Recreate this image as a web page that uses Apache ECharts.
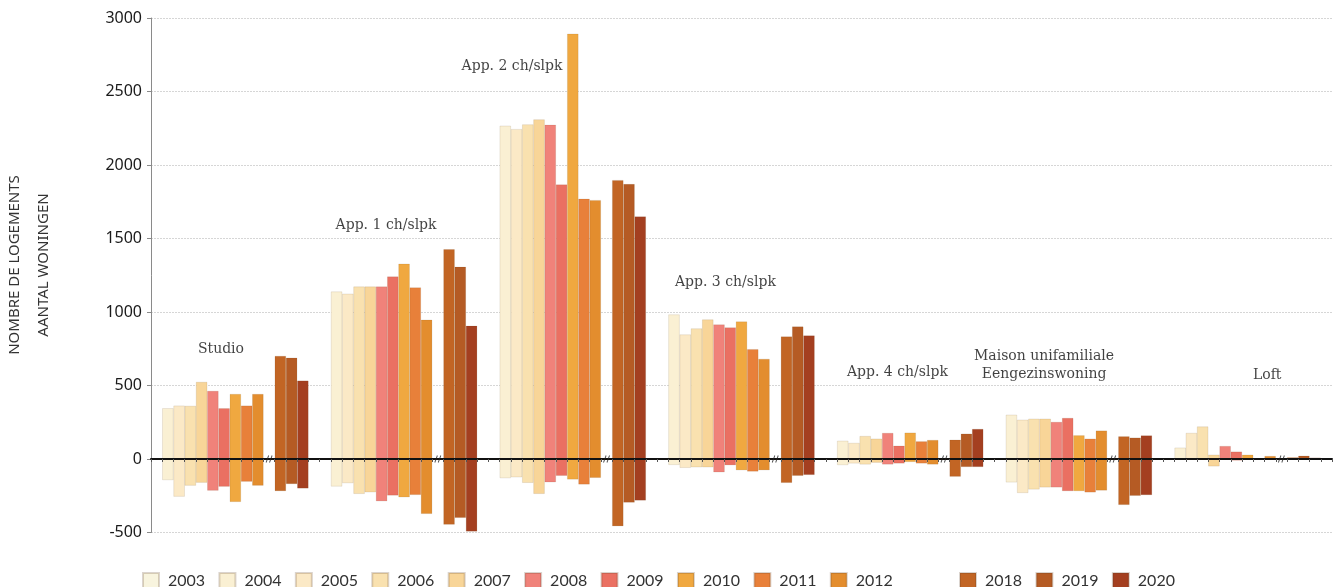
<!DOCTYPE html>
<html>
<head>
<meta charset="utf-8">
<script src="https://cdn.jsdelivr.net/npm/echarts@6/dist/echarts.min.js"></script>
<style>
html,body{margin:0;padding:0;background:#fff;}
#chart{width:1338px;height:587px;}
</style>
</head>
<body>
<div id="chart"></div>
<script>
// ---- data ----
const types = ['Studio', 'App. 1 ch/slpk', 'App. 2 ch/slpk', 'App. 3 ch/slpk', 'App. 4 ch/slpk', 'Maison unifamiliale\nEengezinswoning', 'Loft'];
const years = ['2003', '2004', '2005', '2006', '2007', '2008', '2009', '2010', '2011', '2012', '2018', '2019', '2020'];
const yTicks = [-500, 0, 500, 1000, 1500, 2000, 2500, 3000];

// positive values per year, one per type (Studio .. Loft)
const pos2003 = [null, null, null, null, null, null, null];
const pos2004 = [345, 1139, 2267, 983, 124, 301, 77];
const pos2005 = [363, 1124, 2244, 847, 109, 267, 177];
const pos2006 = [361, 1173, 2276, 888, 156, 274, 221];
const pos2007 = [524, 1173, 2310, 949, 138, 274, 29];
const pos2008 = [463, 1173, 2273, 915, 177, 252, 88];
const pos2009 = [345, 1241, 1867, 895, 90, 279, 50];
const pos2010 = [442, 1328, 2893, 935, 179, 161, 29];
const pos2011 = [363, 1167, 1770, 747, 120, 138, null];
const pos2012 = [442, 947, 1761, 681, 129, 193, 20];
const pos2018 = [701, 1427, 1897, 833, 131, 154, 11];
const pos2019 = [689, 1307, 1870, 901, 172, 145, 22];
const pos2020 = [533, 906, 1650, 840, 204, 160, 9];

// negative values per year
const neg2003 = [null, null, null, null, null, null, null];
const neg2004 = [-143, -187, -130, -40, -41, -159, null];
const neg2005 = [-256, -164, -124, -60, -30, -231, null];
const neg2006 = [-181, -237, -162, -56, -37, -207, null];
const neg2007 = [-161, -226, -237, -56, -25, -193, -50];
const neg2008 = [-215, -287, -158, -90, -37, -193, null];
const neg2009 = [-188, -248, -114, -42, -30, -218, -10];
const neg2010 = [-292, -260, -139, -76, -20, -218, null];
const neg2011 = [-154, -244, -173, -85, -30, -227, null];
const neg2012 = [-181, -373, -128, -76, -37, -214, null];
const neg2018 = [-218, -446, -457, -162, -120, -312, null];
const neg2019 = [-170, -400, -296, -114, -54, -250, null];
const neg2020 = [-200, -493, -282, -108, -54, -245, null];

const posByYear = [pos2003, pos2004, pos2005, pos2006, pos2007, pos2008, pos2009, pos2010, pos2011, pos2012, pos2018, pos2019, pos2020];
const negByYear = [neg2003, neg2004, neg2005, neg2006, neg2007, neg2008, neg2009, neg2010, neg2011, neg2012, neg2018, neg2019, neg2020];

// ---- styles ----
const colors = ['#F8F4DE', '#FAF0D3', '#FBE9C6', '#F9E1AF', '#F8D598', '#F0827A', '#EA7062', '#F0A840', '#E8803A', '#E38D2E', '#C26524', '#B55B24', '#A43F20'];

// ---- layout of slots: per type, 10 years, a break slot, 3 years, an empty slot ----
const SLOTS = 15;
const yearSlot = [0, 1, 2, 3, 4, 5, 6, 7, 8, 9, 11, 12, 13];
const BREAK_SLOT = 10;
const nSlots = types.length * SLOTS;
const categories = [];
for (let t = 0; t < types.length; t++) {
  for (let s = 0; s < SLOTS; s++) categories.push(types[t].split('\n')[0] + ' #' + s);
}

function slotData(values, yi) {
  const arr = new Array(nSlots).fill('-');
  values.forEach((v, t) => {
    if (v !== null) arr[t * SLOTS + yearSlot[yi]] = v;
  });
  return arr;
}

const series = [];
years.forEach((y, yi) => {
  const common = {
    name: y,
    type: 'bar',
    stack: 'all',
    barWidth: '100%',
    itemStyle: { color: colors[yi], borderColor: 'rgba(90,60,30,0.22)', borderWidth: 0.5 },
    emphasis: { disabled: true },
    animation: false
  };
  series.push(Object.assign({}, common, { data: slotData(posByYear[yi], yi) }));
  series.push(Object.assign({}, common, { data: slotData(negByYear[yi], yi) }));
});

// axis break marks
series.push({
  type: 'scatter',
  symbol: 'path://M0,8L3,0M4,8L7,0',
  symbolSize: [6, 7],
  itemStyle: { color: 'none', borderColor: '#222', borderWidth: 1 },
  data: types.map((_, t) => [t * SLOTS + BREAK_SLOT, 0]),
  z: 6,
  silent: true,
  animation: false
});

// type annotations (positions in slot units / values)
const annot = [
  [6.22, 745], [20.9, 1588], [32.1, 2670], [51.07, 1203], [66.36, 590], [79.4, 636], [99.24, 568]
];
series.push({
  type: 'scatter',
  xAxisIndex: 1,
  symbolSize: 1,
  itemStyle: { color: 'transparent' },
  label: {
    show: true, position: 'inside',
    formatter: p => types[p.dataIndex],
    fontFamily: 'DejaVu Serif', fontSize: 14, color: '#111', lineHeight: 18,
    textBorderWidth: 0
  },
  data: annot,
  z: 7,
  silent: true,
  animation: false
});

const legendText = { fontFamily: 'Lato', fontSize: 16, color: '#333', padding: [0, 0, 0, 4] };
const chart = echarts.init(document.getElementById('chart'), null, { renderer: 'canvas' });
chart.setOption({
  backgroundColor: '#fff',
  animation: false,
  grid: { left: 151, right: 6, top: 18, bottom: 54.5, containLabel: false },
  xAxis: [{
    type: 'category',
    data: categories,
    z: 5,
    axisLine: { onZero: true, lineStyle: { color: '#111', width: 2 } },
    axisTick: { show: true, interval: 0, length: 3, lineStyle: { color: '#555' } },
    axisLabel: { show: false },
    splitLine: { show: false }
  }, {
    type: 'value', min: 0, max: nSlots, show: false
  }],
  yAxis: {
    type: 'value',
    min: yTicks[0], max: yTicks[yTicks.length - 1], interval: 500,
    axisLine: { show: true, lineStyle: { color: '#8a8a8a', width: 1 } },
    axisTick: { show: true, length: 4, lineStyle: { color: '#8a8a8a' } },
    axisLabel: { color: '#1a1a1a', fontFamily: 'Noto Sans', fontSize: 16, margin: 9, formatter: v => String(v) },
    splitLine: { show: true, lineStyle: { color: '#d6d6d6', width: 1, type: [2, 1] } }
  },
  legend: [{
    left: 142, top: 572, padding: 0,
    data: years.slice(0, 10),
    icon: 'rect', itemWidth: 16, itemHeight: 15, itemGap: 13.3,
    textStyle: legendText,
    selectedMode: false
  }, {
    left: 959, top: 572, padding: 0,
    data: years.slice(10),
    icon: 'rect', itemWidth: 16, itemHeight: 15, itemGap: 13.3,
    textStyle: legendText,
    selectedMode: false
  }],
  graphic: [{
    type: 'text', x: 15, y: 265, rotation: Math.PI / 2,
    style: { text: 'NOMBRE DE LOGEMENTS', fontFamily: 'Noto Sans', fontSize: 15, fill: '#333', align: 'center', verticalAlign: 'middle' }
  }, {
    type: 'text', x: 44, y: 265, rotation: Math.PI / 2,
    style: { text: 'AANTAL WONINGEN', fontFamily: 'Noto Sans', fontSize: 15, fill: '#333', align: 'center', verticalAlign: 'middle' }
  }],
  series: series
});
</script>
</body>
</html>
